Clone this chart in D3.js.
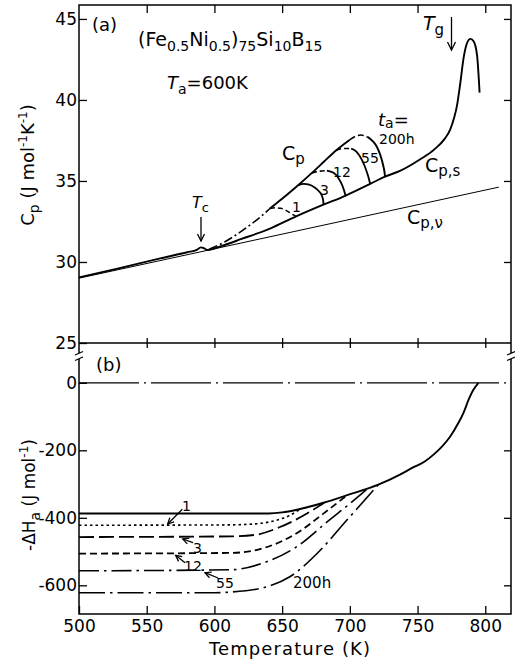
<!DOCTYPE html>
<html><head><meta charset="utf-8">
<script src="https://cdn.jsdelivr.net/npm/d3@7"></script>
<style>
body{margin:0;background:#fff;}
svg text{font-family:"DejaVu Sans",sans-serif;fill:#000;}
</style></head><body>
<svg id="c" width="515" height="662"></svg>
<script>
// ---------- data ----------
const xTicks = [500,550,600,650,700,750,800];
const cpTicks = [25,30,35,40,45];
const dhTicks = [0,-200,-400,-600];

// panel (a): heat capacity, J mol^-1 K^-1
const cpvT   = [500, 810];
const cpvVal = [29.0, 34.62];

const cpsT   = [500,530,560,580,587,590,592,595,605,620,641,660,680,697,715,726,737,752,762,770,774,777,779,781.5,784,786.5,789,791.5,794,795.8];
const cpsVal = [29.05,29.62,30.22,30.6,30.75,30.9,30.86,30.74,30.98,31.42,32.06,32.8,33.52,34.1,34.82,35.27,35.62,36.34,36.92,37.6,38.15,38.9,39.6,41.0,42.6,43.5,43.77,43.6,42.7,40.45];

const envT   = [596,605,615,625,634,641,650,662,672,681,690,700];
const envVal = [30.78,31.12,31.62,32.2,32.78,33.3,33.9,34.75,35.5,36.2,36.9,37.55];

const arc1T    = [641,645,649,652,655,658,660.5];
const arc1Val  = [33.3,33.34,33.31,33.22,33.08,32.92,32.8];
const arc3T    = [662,666,670,674,677,679.3,680.3,680.6];
const arc3Val  = [34.75,34.82,34.77,34.6,34.38,34.1,33.8,33.52];
const arc12T   = [672,677,683,688,691.6,694,695.6,696.8];
const arc12Val = [35.5,35.6,35.64,35.5,35.17,34.8,34.45,34.1];
const arc55T   = [690,695,701,705,708.9,711.5,713.5,715];
const arc55Val = [36.9,37.0,37.0,36.8,36.3,35.8,35.3,34.82];
const arc200T  = [700,704,708,713,717,720,722.5,724.5,725.5,726];
const arc200Val= [37.55,37.75,37.84,37.72,37.45,37.1,36.6,36.0,35.6,35.27];

// panel (b): -ΔH_a, J mol^-1
const dhZeroT = [500, 819];
const dhZeroVal = [0, 0];
const dhMainT   = [500,640,650,661,680,698,721,737,747,755,762,768,774,780,784,788,791,795];
const dhMainVal = [-387,-387,-384,-376,-356,-333,-302,-272,-250,-234,-212,-189,-160,-120,-88,-47,-22,0];
const dh1T   = [500,610,630,645,655,663];
const dh1Val = [-422,-421,-418,-408,-394,-375];
const dh3T   = [500,612,631,648,668,681];
const dh3Val = [-457,-455,-450,-428,-388,-355];
const dh12T  = [500,612,636,661,680,698];
const dh12Val= [-506,-504,-490,-445,-389,-333];
const dh55T  = [500,612,636,661,685,700,713];
const dh55Val= [-557,-554,-534,-485,-406,-358,-314];
const dh200T = [500,600,612,639,656,676,698,721];
const dh200Val=[-622,-622,-620,-604,-574,-505,-406,-302];

// ---------- layout ----------
const svg = d3.select("#c");
const L = 79, R = 511, T0 = 5, MID = 343, B = 614;
const x = d3.scaleLinear().domain([500, 819]).range([L, R]);
const yA = d3.scaleLinear().domain([25, 45.86]).range([MID, T0]);
const yB = d3.scaleLinear().domain([-685, 118]).range([B, MID]);

const zip = (a,b) => a.map((v,i)=>[v,b[i]]);
const lineA = d3.line().x(d=>x(d[0])).y(d=>yA(d[1])).curve(d3.curveMonotoneX);
const lineB = d3.line().x(d=>x(d[0])).y(d=>yB(d[1])).curve(d3.curveMonotoneX);

function path(gen, pts, w, dash){
  const p = svg.append("path").attr("d", gen(pts)).attr("fill","none")
    .attr("stroke","#000").attr("stroke-width", w).attr("stroke-linejoin","round");
  if (dash) p.attr("stroke-dasharray", dash);
  return p;
}

// ---------- frame ----------
svg.append("rect").attr("x",L).attr("y",T0).attr("width",R-L).attr("height",B-T0)
  .attr("fill","none").attr("stroke","#000").attr("stroke-width",1.5);
svg.append("line").attr("x1",L).attr("x2",R).attr("y1",MID).attr("y2",MID)
  .attr("stroke","#000").attr("stroke-width",1.5);

// axis break marks
[L, R].forEach(px => {
  svg.append("rect").attr("x",px-3).attr("y",353).attr("width",6).attr("height",6).attr("fill","#fff");
  svg.append("line").attr("x1",px-4).attr("y1",355).attr("x2",px+4).attr("y2",351.5).attr("stroke","#000").attr("stroke-width",1.2);
  svg.append("line").attr("x1",px-4).attr("y1",360.5).attr("x2",px+4).attr("y2",357).attr("stroke","#000").attr("stroke-width",1.2);
});

// ---------- axes ----------
function styleAxis(g){
  g.select(".domain").remove();
  g.selectAll(".tick line").attr("stroke","#000").attr("stroke-width",1.3);
  g.selectAll(".tick text").attr("font-size",17).attr("font-family","DejaVu Sans, sans-serif");
}
svg.append("g").attr("transform",`translate(${L},0)`)
  .call(d3.axisLeft(yA).tickValues(cpTicks).tickSizeInner(-8).tickSizeOuter(0).tickPadding(2).tickFormat(d3.format("d")))
  .call(styleAxis);
svg.append("g").attr("transform",`translate(${L},0)`)
  .call(d3.axisLeft(yB).tickValues(dhTicks).tickSizeInner(-8).tickSizeOuter(0).tickPadding(2).tickFormat(d=> d===0 ? "0" : "-"+Math.abs(d)))
  .call(styleAxis);
svg.append("g").attr("transform",`translate(${R},0)`)
  .call(d3.axisRight(yA).tickValues([30,35,40,45]).tickSizeInner(-7).tickSizeOuter(0).tickFormat(""))
  .call(styleAxis);
svg.append("g").attr("transform",`translate(${R},0)`)
  .call(d3.axisRight(yB).tickValues([-200,-400,-600]).tickSizeInner(-7).tickSizeOuter(0).tickFormat(""))
  .call(styleAxis);
svg.append("g").attr("transform",`translate(0,${B})`)
  .call(d3.axisBottom(x).tickValues(xTicks).tickSizeInner(-8).tickSizeOuter(0).tickPadding(6).tickFormat(d3.format("d")))
  .call(styleAxis);
svg.append("g").attr("transform",`translate(0,${T0})`)
  .call(d3.axisTop(x).tickValues(xTicks.slice(1)).tickSizeInner(-8).tickSizeOuter(0).tickFormat(""))
  .call(styleAxis);
svg.append("g").attr("transform",`translate(0,${MID})`)
  .call(d3.axisBottom(x).tickValues(xTicks.slice(1)).tickSizeInner(5).tickSizeOuter(0).tickFormat(""))
  .call(styleAxis);
svg.append("g").attr("transform",`translate(0,${MID})`)
  .call(d3.axisTop(x).tickValues(xTicks.slice(1)).tickSizeInner(5).tickSizeOuter(0).tickFormat(""))
  .call(styleAxis);

// ---------- panel (a) curves ----------
path(lineA, zip(cpvT, cpvVal), 1.0);
path(lineA, zip(cpsT, cpsVal), 1.9);
const env = zip(envT, envVal);
path(lineA, env.filter(d=>d[0]<=641), 1.6, "9,3,2,3");
path(lineA, env.filter(d=>d[0]>=641), 1.9);
path(lineA, zip(arc1T, arc1Val), 1.5, "5,3");
path(lineA, zip(arc3T, arc3Val), 1.8);
const a12 = zip(arc12T, arc12Val);
path(lineA, a12.filter(d=>d[0]<=683), 1.6, "5,3");
path(lineA, a12.filter(d=>d[0]>=683), 1.8);
const a55 = zip(arc55T, arc55Val);
path(lineA, a55.filter(d=>d[0]<=701), 1.6, "5,3");
path(lineA, a55.filter(d=>d[0]>=701), 1.8);
const a200 = zip(arc200T, arc200Val);
path(lineA, a200.filter(d=>d[0]<=713), 1.6, "6,3");
path(lineA, a200.filter(d=>d[0]>=713), 1.9);

// ---------- panel (b) curves ----------
path(lineB, zip(dhZeroT, dhZeroVal), 1.2, "60,5,2,5");
path(lineB, zip(dhMainT, dhMainVal), 1.9);
path(lineB, zip(dh1T, dh1Val), 1.6, "2.5,3");
path(lineB, zip(dh3T, dh3Val), 1.8, "15,5");
path(lineB, zip(dh12T, dh12Val), 1.8, "7,4");
path(lineB, zip(dh55T, dh55Val), 1.6, "20,5,2.5,5");
path(lineB, zip(dh200T, dh200Val), 1.6, "26,5,2.5,5");

// ---------- text helpers ----------
function rich(x0, y0, parts, size, anchor, transform){
  const t = svg.append("text").attr("x",x0).attr("y",y0).attr("font-size",size)
    .attr("text-anchor", anchor || "start");
  if (transform) t.attr("transform", transform);
  let shift = 0;
  parts.forEach(p => {
    const target = p.d || 0;
    const ts = t.append("tspan").text(p.t).attr("dy", target - shift);
    shift = target;
    if (p.s) ts.attr("font-size", p.s);
    if (p.i) ts.attr("font-style", "italic");
  });
  return t;
}
function arrow(x1,y1,x2,y2,h,w){
  svg.append("line").attr("x1",x1).attr("y1",y1).attr("x2",x2).attr("y2",y2)
    .attr("stroke","#000").attr("stroke-width",1.3);
  const a = Math.atan2(y2-y1, x2-x1);
  const p1 = [x2 - h*Math.cos(a) + w*Math.sin(a), y2 - h*Math.sin(a) - w*Math.cos(a)];
  const p2 = [x2 - h*Math.cos(a) - w*Math.sin(a), y2 - h*Math.sin(a) + w*Math.cos(a)];
  svg.append("path").attr("d",`M${p1}L${x2},${y2}L${p2}`).attr("fill","none")
    .attr("stroke","#000").attr("stroke-width",1.3);
}

// ---------- panel (a) text ----------
rich(92, 31, [{t:"(a)"}], 18);
rich(138, 46, [{t:"(Fe"},{t:"0.5",s:14,d:5},{t:"Ni"},{t:"0.5",s:14,d:5},{t:")"},
  {t:"75",s:14,d:5},{t:"Si"},{t:"10",s:14,d:5},{t:"B"},{t:"15",s:14,d:5}], 19);
rich(167, 89, [{t:"T",i:true},{t:"a",s:14,d:5},{t:"=600K"}], 18);
rich(192, 208, [{t:"T",i:true},{t:"c",s:13,d:4}], 16);
arrow(201, 217, 201, 241, 7, 3.5);
rich(423, 30, [{t:"T",i:true},{t:"g",s:15,d:5}], 19);
arrow(451.5, 17, 451.5, 50, 8, 4);
rich(282, 160, [{t:"C"},{t:"p",s:15,d:4}], 19);
rich(378, 126, [{t:"t",i:true},{t:"a",s:14,d:2},{t:"=",d:0}], 18);
rich(379, 144, [{t:"200h"}], 14);
rich(361, 163, [{t:"55"}], 14);
rich(333, 177, [{t:"12"}], 14);
rich(320, 195, [{t:"3"}], 14);
rich(292, 212, [{t:"1"}], 14);
rich(425, 172, [{t:"C"},{t:"p,s",s:15,d:4}], 19);
rich(407, 224, [{t:"C"},{t:"p,ν",s:15,d:4}], 19);

// ---------- panel (b) text ----------
rich(96, 371, [{t:"(b)"}], 18);
rich(182, 511, [{t:"1"}], 14);
arrow(182.3, 509.3, 167.7, 524, 6, 3);
rich(193, 553, [{t:"3"}], 14);
arrow(193, 542.7, 182.7, 539, 6, 3);
rich(184, 571, [{t:"12"}], 14);
arrow(185, 562.7, 175.7, 555.3, 6, 3);
rich(216, 588, [{t:"55"}], 14);
arrow(218, 578, 205, 572.7, 6, 3);
rich(293, 588, [{t:"200h"}], 15);

// ---------- axis titles ----------
rich(290, 655, [{t:"Temperature  (K)"}], 18, "middle").attr("letter-spacing", 1.1);
rich(0, 0, [{t:"C"},{t:"p",s:14,d:5},{t:"  (J mol"},{t:"-1",s:12,d:-7},{t:"K"},{t:"-1",s:12,d:-7},{t:")"}],
  18, "middle", "translate(34,165) rotate(-90)");
rich(0, 0, [{t:"-ΔH",i:false},{t:"a",s:14,d:5},{t:"  (J mol"},{t:"-1",s:12,d:-7},{t:")"}],
  17, "middle", "translate(35,495) rotate(-90)");
</script>
</body></html>
